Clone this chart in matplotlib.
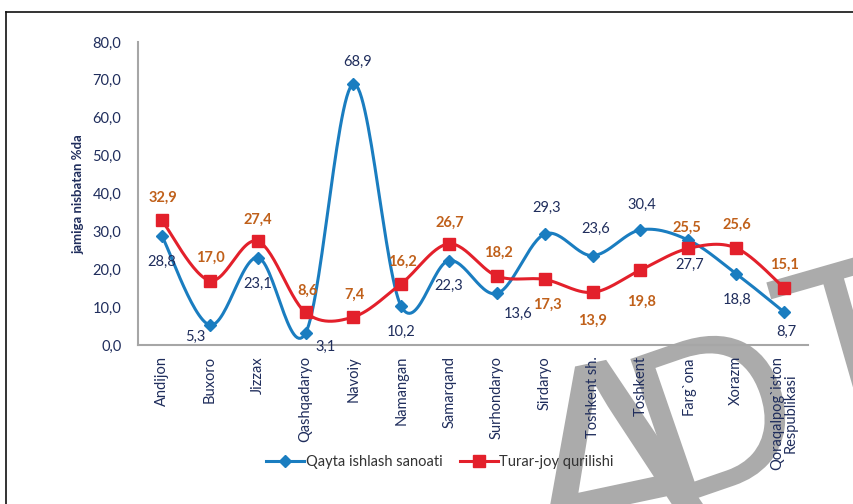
import numpy as np
import matplotlib
matplotlib.use("Agg")
import matplotlib.pyplot as plt
from matplotlib.lines import Line2D
from matplotlib.textpath import TextPath
from matplotlib.font_manager import FontProperties
from matplotlib.patches import PathPatch
from matplotlib.transforms import Affine2D, IdentityTransform

plt.rcParams['font.family'] = ['Lato', 'DejaVu Sans']

categories = ["Andijon", "Buxoro", "Jizzax", "Qashqadaryo", "Navoiy", "Namangan",
              "Samarqand", "Surhondaryo", "Sirdaryo", "Toshkent sh.", "Toshkent",
              "Farg`ona", "Xorazm", "Qoraqalpog`iston\nRespublikasi"]
qayta = [28.8, 5.3, 23.1, 3.1, 68.9, 10.2, 22.3, 13.6, 29.3, 23.6, 30.4, 27.7, 18.8, 8.7]
turar = [32.9, 17.0, 27.4, 8.6, 7.4, 16.2, 26.7, 18.2, 17.3, 13.9, 19.8, 25.5, 25.6, 15.1]
yticks = [0, 10, 20, 30, 40, 50, 60, 70, 80]
series_names = ["Qayta ishlash sanoati", "Turar-joy qurilishi"]

# label offsets in pixels (dx, dy up-positive)
qayta_off = [(0, -26), (-14, -12), (0, -26), (20, -14), (4, 22), (0, -26), (0, -25),
             (21, -20), (2, 26), (3, 27), (1, 25), (1, -25), (1, -26), (2, -20)]
turar_off = [(1, 23), (1, 23), (0, 21), (2, 22), (1, 22), (1, 22), (1, 21),
             (1, 23), (3, -25), (0, -28), (1, -32), (-1, 21), (1, 23), (0, 23)]

BLUE = '#1a7dc0'
RED = '#e3202b'
NAVY = '#1f2d5c'
ORANGE = '#c0601a'
W, H = 854, 504


def smooth(xs, ys, n=30):
    pts = np.column_stack([xs, ys]).astype(float)
    P = np.vstack([pts[0], pts, pts[-1]])
    out = []
    t = np.linspace(0, 1, n)[:, None]
    for i in range(len(pts) - 1):
        p0, p1, p2, p3 = P[i], P[i + 1], P[i + 2], P[i + 3]
        c1 = p1 + (p2 - p0) / 6.0
        c2 = p2 - (p3 - p1) / 6.0
        seg = ((1 - t) ** 3) * p1 + 3 * ((1 - t) ** 2) * t * c1 + 3 * (1 - t) * t ** 2 * c2 + t ** 3 * p2
        out.append(seg if i == 0 else seg[1:])
    out = np.vstack(out)
    return out[:, 0], out[:, 1]


fig = plt.figure(figsize=(8.54, 5.04), dpi=100)

# decorative watermark letters, drawn beneath the chart in pixel space
fp = FontProperties(family='Liberation Sans')
for ch, (px, py), rot, size in [("A", (535, 586), 12, 300), ("D", (663, 510), 19, 223),
                                ("T", (805, 436), 16, 230)]:
    tp = TextPath((0, 0), ch, size=size, prop=fp)
    tr = Affine2D().rotate_deg(rot).translate(px, H - py)
    fig.add_artist(PathPatch(tr.transform_path(tp), transform=IdentityTransform(),
                             facecolor='#ababab', edgecolor='none', zorder=-5))

ax = fig.add_axes([138 / W, 1 - 345 / H, (808 - 138) / W, (345 - 42) / H])
ax.patch.set_visible(False)

x = np.arange(len(categories))
sx, sy = smooth(x, qayta)
ax.plot(sx, sy, color=BLUE, lw=2.2, zorder=3, solid_capstyle='round')
ax.plot(x, qayta, ls='none', marker='D', ms=6.5, color=BLUE, zorder=4)
sx, sy = smooth(x, turar)
ax.plot(sx, sy, color=RED, lw=2.2, zorder=3, solid_capstyle='round')
ax.plot(x, turar, ls='none', marker='s', ms=9, color=RED, zorder=4)

for xi, v, (dx, dy) in zip(x, qayta, qayta_off):
    ax.annotate(f"{v:.1f}".replace('.', ','), (xi, v), xytext=(dx, dy),
                textcoords='offset pixels', ha='center', va='center',
                fontsize=10.5, color=NAVY, zorder=6)
for xi, v, (dx, dy) in zip(x, turar, turar_off):
    ax.annotate(f"{v:.1f}".replace('.', ','), (xi, v), xytext=(dx, dy),
                textcoords='offset pixels', ha='center', va='center',
                fontsize=10.5, color=ORANGE, fontweight='bold', zorder=6)

ax.set_xlim(-0.5, len(categories) - 0.5)
ax.set_ylim(0, 80)
ax.set_yticks(yticks)
ax.set_yticklabels([f"{v:.1f}".replace('.', ',') for v in yticks], fontsize=10.5, color=NAVY)
ax.set_xticks(x)
ax.set_xticklabels(categories, rotation=90, fontsize=10.5, color=NAVY, va='top', ha='center',
                   linespacing=1.0)
ax.tick_params(axis='x', length=0, pad=8)
ax.tick_params(axis='y', length=0, pad=12)
for s in ['top', 'right']:
    ax.spines[s].set_visible(False)
for s in ['left', 'bottom']:
    ax.spines[s].set_color('#a6a6a6')
    ax.spines[s].set_linewidth(1.5)
for ln in ax.lines:
    ln.set_clip_on(False)

fig.text(78 / W, 1 - 194 / H, "jamiga nisbatan %da", rotation=90, ha='center', va='center',
         fontsize=9.5, fontweight='bold', color=NAVY)

handles = [Line2D([], [], color=BLUE, lw=2.2, marker='D', ms=6),
           Line2D([], [], color=RED, lw=2.2, marker='s', ms=8)]
fig.legend(handles, series_names, loc='center', bbox_to_anchor=(440 / W, 1 - 462 / H),
           ncol=2, frameon=False, fontsize=10.5, handlelength=2.6, handletextpad=0.1,
           columnspacing=1.2, labelcolor='#333333')

# frame (left and top edges)
fig.add_artist(Line2D([6 / W, 6 / W], [0, 1 - 12 / H], transform=fig.transFigure,
                      color='#111111', lw=1.2))
fig.add_artist(Line2D([6 / W, 1], [1 - 12 / H, 1 - 12 / H], transform=fig.transFigure,
                      color='#111111', lw=1.2))

fig.savefig("out.png", dpi=100)
